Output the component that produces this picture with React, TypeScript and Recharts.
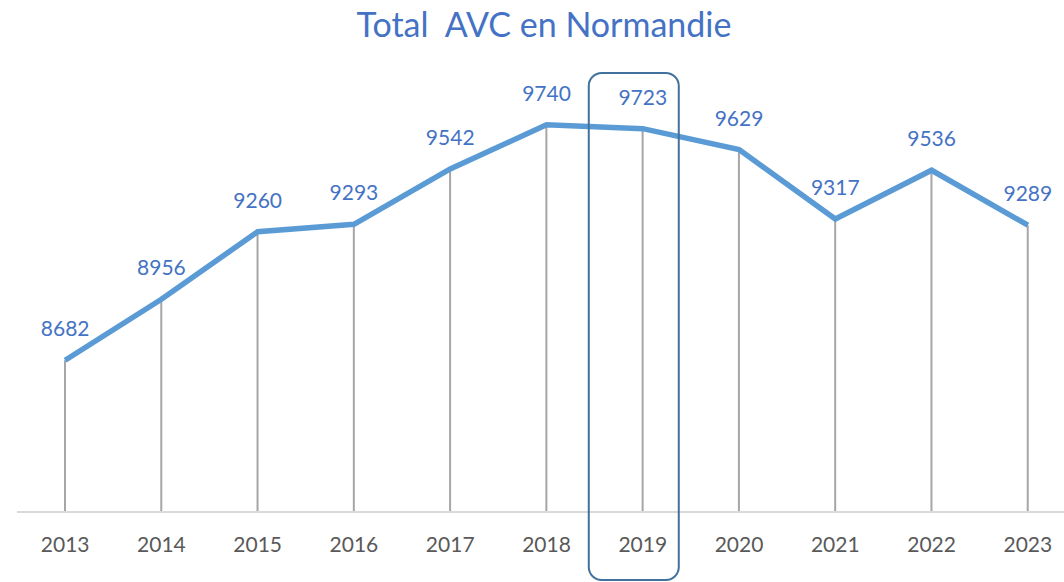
import { Bar, ComposedChart, LabelList, Line, ReferenceDot, XAxis, YAxis } from "recharts";

// Annual stroke (AVC) totals for Normandy
const years = ["2013", "2014", "2015", "2016", "2017", "2018", "2019", "2020", "2021", "2022", "2023"];
const totals = [8682, 8956, 9260, 9293, 9542, 9740, 9723, 9629, 9317, 9536, 9289];
const highlightYear = "2019";

const data = years.map((year, i) => ({ year, total: totals[i] }));

const FONT = "Lato, 'Open Sans', sans-serif";

// rounded frame around the highlighted year, anchored on its x position
function HighlightBox(props: { cx?: number; cy?: number }) {
  const { cx = 0, cy = 0 } = props;
  return (
    <rect
      x={cx - 54}
      y={cy + 6}
      width={90}
      height={507}
      rx={13}
      ry={13}
      fill="none"
      stroke="#41719C"
      strokeWidth={2}
    />
  );
}

export default function App() {
  return (
    <div
      style={{
        position: "absolute",
        left: 0,
        top: 0,
        width: 1064,
        height: 582,
        overflow: "hidden",
        background: "#fff",
        fontFamily: FONT,
      }}
    >
      <div
        style={{
          position: "absolute",
          left: 0,
          top: 7,
          width: 1088,
          textAlign: "center",
          fontSize: 34,
          lineHeight: "34px",
          color: "#4472C4",
          whiteSpace: "pre",
        }}
      >
        {"Total  AVC en Normandie"}
      </div>
      <ComposedChart
        width={1080}
        height={582}
        data={data}
        margin={{ top: 67, right: 4, left: 17, bottom: 30 }}
        barSize={2}
      >
        <XAxis
          dataKey="year"
          height={40}
          tickLine={false}
          axisLine={{ stroke: "#D9D9D9", strokeWidth: 2 }}
          tick={{ fontSize: 21, fill: "#595959", fontFamily: FONT }}
          tickMargin={19}
        />
        <YAxis hide domain={[8000, 10000]} />
        {/* drop lines from each point down to the axis */}
        <Bar dataKey="total" fill="#A6A6A6" isAnimationActive={false} />
        <Line
          type="linear"
          dataKey="total"
          stroke="#5B9BD5"
          strokeWidth={5.5}
          dot={false}
          activeDot={false}
          isAnimationActive={false}
        >
          <LabelList
            dataKey="total"
            position="top"
            offset={24}
            style={{ fontSize: 21, fill: "#4472C4", fontFamily: FONT }}
          />
        </Line>
        <ReferenceDot x={highlightYear} y={10000} shape={<HighlightBox />} />
      </ComposedChart>
    </div>
  );
}
